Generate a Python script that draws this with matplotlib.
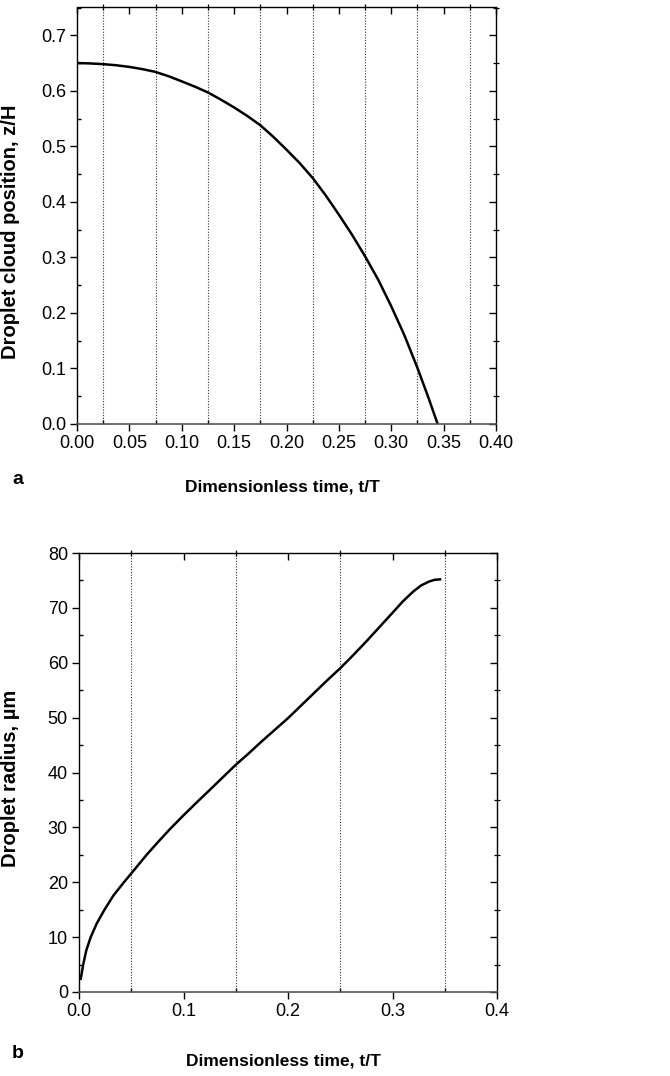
import matplotlib
matplotlib.use("Agg")
import matplotlib.pyplot as plt
from matplotlib.ticker import MultipleLocator, FormatStrFormatter

plt.rcParams['font.family'] = ['Liberation Sans', 'DejaVu Sans']

# Panel a: droplet cloud position vs dimensionless time
t_a = [0.0, 0.0125, 0.025, 0.0375, 0.05, 0.0625, 0.075, 0.0875, 0.10, 0.1125,
       0.125, 0.1375, 0.15, 0.1625, 0.175, 0.1875, 0.20, 0.2125, 0.225, 0.2375,
       0.25, 0.2625, 0.275, 0.2875, 0.30, 0.3125, 0.325, 0.335, 0.3443]
z_a = [0.650, 0.6493, 0.648, 0.646, 0.643, 0.639, 0.634, 0.6262, 0.617, 0.6075,
       0.597, 0.584, 0.570, 0.5548, 0.538, 0.517, 0.494, 0.470, 0.443, 0.4115,
       0.377, 0.341, 0.302, 0.260, 0.212, 0.160, 0.101, 0.050, 0.0]

# Panel b: droplet radius vs dimensionless time
t_b = [0.0017, 0.004, 0.007, 0.0112, 0.017, 0.0244, 0.033, 0.043, 0.05, 0.0647,
       0.075, 0.0871, 0.10, 0.114, 0.125, 0.1375, 0.15, 0.1625, 0.175, 0.1875,
       0.20, 0.2125, 0.225, 0.2375, 0.25, 0.2625, 0.275, 0.2875, 0.30, 0.31,
       0.32, 0.3275, 0.335, 0.34, 0.3455]
r_b = [2.4, 5.0, 7.6, 10.0, 12.5, 15.0, 17.6, 20.0, 21.6, 25.0,
       27.2, 29.7, 32.2, 34.8, 36.8, 39.1, 41.4, 43.5, 45.7, 47.8,
       49.9, 52.2, 54.5, 56.8, 59.0, 61.4, 63.9, 66.5, 69.1, 71.2,
       73.0, 74.1, 74.8, 75.1, 75.2]

grid_a = [0.025, 0.075, 0.125, 0.175, 0.225, 0.275, 0.325, 0.375]
grid_b = [0.05, 0.15, 0.25, 0.35]

fig = plt.figure(figsize=(6.7, 10.76), dpi=100)
ax1 = fig.add_axes([77/670, (1076-424)/1076, 419/670, 416.5/1076])
ax2 = fig.add_axes([79/670, (1076-992)/1076, 418/670, 439/1076])


def setup(ax, xmaj, xmin, ymaj, ymin, xfmt, yfmt):
    ax.spines['top'].set_visible(False)
    ax.spines['right'].set_visible(False)
    ax.spines['left'].set_linewidth(1.0)
    ax.spines['bottom'].set_linewidth(1.2)
    ax.spines['bottom'].set_color('#555555')
    ax.tick_params(which='major', direction='out', length=5, width=1.0,
                   labelsize=13, pad=3, top=False, right=False)
    ax.tick_params(which='minor', direction='in', length=3, width=1.0,
                   top=False, right=False)
    ax.xaxis.set_major_locator(MultipleLocator(xmaj))
    ax.xaxis.set_minor_locator(MultipleLocator(xmin))
    ax.yaxis.set_major_locator(MultipleLocator(ymaj))
    ax.yaxis.set_minor_locator(MultipleLocator(ymin))
    ax.xaxis.set_major_formatter(FormatStrFormatter(xfmt))
    ax.yaxis.set_major_formatter(yfmt)
    sx = ax.secondary_xaxis('top')
    sy = ax.secondary_yaxis('right')
    sx.xaxis.set_major_locator(MultipleLocator(xmaj))
    sx.xaxis.set_minor_locator(MultipleLocator(xmin))
    sy.yaxis.set_major_locator(MultipleLocator(ymaj))
    sy.yaxis.set_minor_locator(MultipleLocator(ymin))
    for sec in (sx, sy):
        sec.tick_params(which='major', direction='in', length=5, width=1.0)
        sec.tick_params(which='minor', direction='inout', length=4, width=0.9)
        for s in sec.spines.values():
            s.set_linewidth(1.0)
    sx.set_xticklabels([])
    sy.set_yticklabels([])


ax1.plot(t_a, z_a, color='black', lw=1.8, solid_joinstyle='round')
for g in grid_a:
    ax1.axvline(g, color='#333333', lw=0.8, ls=(0, (1, 1.5)), zorder=0)
ax1.set_xlim(0, 0.40)
ax1.set_ylim(0, 0.75)
setup(ax1, 0.05, 0.025, 0.1, 0.05, '%.2f', FormatStrFormatter('%.1f'))
ax1.set_ylabel('Droplet cloud position, z/H', fontsize=14.5, fontweight='bold')
ax1.yaxis.set_label_coords(-0.137, 0.461)
ax1.set_xlabel('Dimensionless time, t/T', fontsize=12.5, fontweight='bold')
ax1.xaxis.set_label_coords(0.49, -0.134)
fig.text(12/670, 1-480/1076, 'a', fontsize=14, fontweight='bold', va='center', ha='left')

ax2.plot(t_b, r_b, color='black', lw=1.8, solid_joinstyle='round')
for g in grid_b:
    ax2.axvline(g, color='#333333', lw=0.8, ls=(0, (1, 1.5)), zorder=0)
ax2.set_xlim(0, 0.4)
ax2.set_ylim(0, 80)
setup(ax2, 0.1, 0.05, 10, 5, '%.1f', FormatStrFormatter('%d'))
ax2.set_ylabel('Droplet radius, µm', fontsize=14.5, fontweight='bold')
ax2.yaxis.set_label_coords(-0.141, 0.487)
ax2.set_xlabel('Dimensionless time, t/T', fontsize=12.5, fontweight='bold')
ax2.xaxis.set_label_coords(0.49, -0.139)
fig.text(12/670, 1-1053/1076, 'b', fontsize=14, fontweight='bold', va='center', ha='left')

fig.savefig('out.png', dpi=100)
